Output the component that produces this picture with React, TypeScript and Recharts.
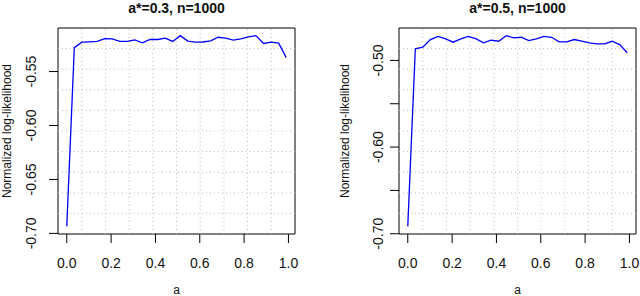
import { LineChart, Line, XAxis, YAxis, ReferenceLine, ReferenceArea, Label } from "recharts";

const aGrid = [
  0, 0.034, 0.068, 0.102, 0.137, 0.171, 0.205, 0.239, 0.273, 0.307, 0.341, 0.376, 0.41, 0.444, 0.478,
  0.512, 0.546, 0.58, 0.614, 0.649, 0.683, 0.717, 0.751, 0.785, 0.819, 0.853, 0.888, 0.922, 0.956, 0.99,
];

const loglikA03 = [
  -0.6935, -0.5279, -0.5228, -0.5224, -0.5221, -0.5194, -0.5197, -0.5221, -0.5221, -0.5206, -0.5233,
  -0.5203, -0.5203, -0.5191, -0.5221, -0.5167, -0.5218, -0.5228, -0.5226, -0.5215, -0.5182, -0.5191,
  -0.5209, -0.5197, -0.5179, -0.5167, -0.524, -0.5228, -0.5237, -0.5371,
];

const loglikA05 = [
  -0.6915, -0.4866, -0.4848, -0.4759, -0.4722, -0.4751, -0.479, -0.4751, -0.4722, -0.4748, -0.4797,
  -0.4767, -0.4779, -0.4714, -0.474, -0.4733, -0.4771, -0.4751, -0.4722, -0.4733, -0.4786, -0.4786,
  -0.4759, -0.4778, -0.4797, -0.4809, -0.4809, -0.4779, -0.4817, -0.4912,
];

const xTicks = [0, 0.2, 0.4, 0.6, 0.8, 1.0];
const yTicksA03 = [-0.7, -0.65, -0.6, -0.55];
const yTicksA05 = [-0.7, -0.65, -0.6, -0.55, -0.5];
const yLabelsA05 = [-0.7, -0.6, -0.5];

const FONT = '"Liberation Sans", Arial, Helvetica, sans-serif';
const INK = "#111";

// like R's default axes: pad the data range by 4% each side
const padRange = (vals: number[]) => {
  const lo = Math.min(...vals);
  const hi = Math.max(...vals);
  const pad = (hi - lo) * 0.04;
  return [lo - pad, hi + pad];
};

// grid() splits the plot region into 10 equal cells
const gridSteps = (lo: number, hi: number) =>
  Array.from({ length: 9 }, (_, i) => lo + ((hi - lo) * (i + 1)) / 10);

const XTick = ({ x, y, payload }: any) => (
  <text x={x} y={y + 25} textAnchor="middle" fontSize={14} fontFamily={FONT} fill={INK}>
    {payload.value.toFixed(1)}
  </text>
);

const YTick = ({ x, y, payload, labels, shift }: any) => {
  if (labels && !labels.some((v: number) => Math.abs(v - payload.value) < 1e-9)) return <g />;
  const cx = x - shift;
  return (
    <text
      x={cx}
      y={y}
      transform={`rotate(-90 ${cx} ${y})`}
      textAnchor="middle"
      dominantBaseline="central"
      fontSize={14}
      fontFamily={FONT}
      fill={INK}
    >
      {payload.value.toFixed(2)}
    </text>
  );
};

type PanelProps = {
  title: string;
  values: number[];
  yTicks: number[];
  yLabels?: number[];
  axisWidth: number;
  rightGap: number;
  tickShift: number;
  titleX: number;
};

const LikelihoodPanel = ({ title, values, yTicks, yLabels, axisWidth, rightGap, tickShift, titleX }: PanelProps) => {
  const data = aGrid.map((a, i) => ({ a, ll: values[i] }));
  const [x0, x1] = padRange(aGrid);
  const [y0, y1] = padRange(values);
  const plotW = 320 - axisWidth - rightGap;

  return (
    <div style={{ position: "relative", width: 320, height: 296 }}>
      <div
        style={{
          position: "absolute",
          left: axisWidth,
          width: plotW,
          top: 0,
          textAlign: "center",
          fontFamily: FONT,
          fontWeight: "bold",
          fontSize: 14,
          lineHeight: "16px",
          color: INK,
        }}
      >
        {title}
      </div>
      <LineChart width={320} height={296} data={data} margin={{ top: 28, right: rightGap, bottom: 0, left: 0 }}>
        <XAxis
          dataKey="a"
          type="number"
          domain={[x0, x1]}
          allowDataOverflow
          ticks={xTicks}
          interval={0}
          height={62}
          tickSize={9}
          tickMargin={0}
          axisLine={false}
          tickLine={{ stroke: "#000" }}
          tick={XTick}
        >
          <Label
            content={({ viewBox }: any) => (
              <text
                x={viewBox.x + viewBox.width / 2}
                y={viewBox.y + viewBox.height - 2}
                textAnchor="middle"
                fontSize={12}
                fontFamily={FONT}
                fill={INK}
              >
                a
              </text>
            )}
          />
        </XAxis>
        <YAxis
          type="number"
          domain={[y0, y1]}
          allowDataOverflow
          ticks={yTicks}
          interval={0}
          width={axisWidth}
          tickSize={9}
          tickMargin={0}
          axisLine={false}
          tickLine={{ stroke: "#000" }}
          tick={(p: any) => <YTick {...p} labels={yLabels} shift={tickShift} />}
        >
          <Label
            content={({ viewBox }: any) => {
              const cy = viewBox.y + viewBox.height / 2;
              return (
                <text
                  x={titleX}
                  y={cy}
                  transform={`rotate(-90 ${titleX} ${cy})`}
                  textAnchor="middle"
                  dominantBaseline="central"
                  fontSize={12}
                  fontFamily={FONT}
                  fill={INK}
                >
                  Normalized log-likelihood
                </text>
              );
            }}
          />
        </YAxis>
        {gridSteps(x0, x1).map((v, i) => (
          <ReferenceLine key={`gx${i}`} x={v} stroke="#bdbdbd" strokeDasharray="1 3" />
        ))}
        {gridSteps(y0, y1).map((v, i) => (
          <ReferenceLine key={`gy${i}`} y={v} stroke="#bdbdbd" strokeDasharray="1 3" />
        ))}
        <Line
          dataKey="ll"
          type="linear"
          stroke="#0000ff"
          strokeWidth={1.3}
          dot={false}
          activeDot={false}
          isAnimationActive={false}
        />
        <ReferenceArea x1={x0} x2={x1} y1={y0} y2={y1} fill="none" fillOpacity={0} stroke="#000" strokeWidth={1} />
      </LineChart>
    </div>
  );
};

export default function App() {
  return (
    <div style={{ position: "absolute", left: 0, top: 0, width: 640, height: 296, display: "flex", background: "#fff" }}>
      <LikelihoodPanel
        title="a*=0.3, n=1000"
        values={loglikA03}
        yTicks={yTicksA03}
        axisWidth={58}
        rightGap={25}
        tickShift={17.5}
        titleX={7}
      />
      <LikelihoodPanel
        title="a*=0.5, n=1000"
        values={loglikA05}
        yTicks={yTicksA05}
        yLabels={yLabelsA05}
        axisWidth={79}
        rightGap={4}
        tickShift={12}
        titleX={25}
      />
    </div>
  );
}
